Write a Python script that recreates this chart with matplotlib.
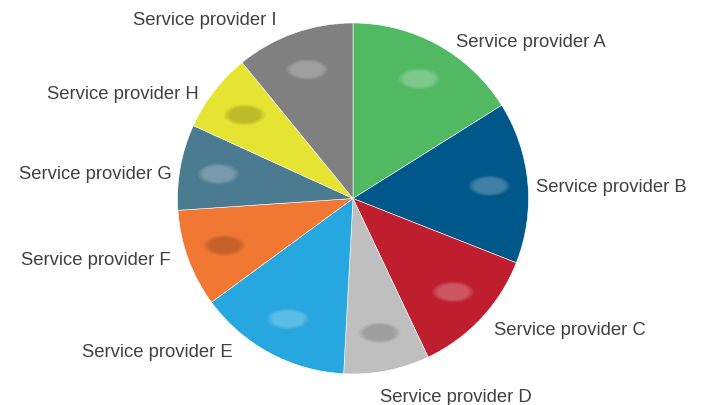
import numpy as np
import matplotlib
matplotlib.use("Agg")
import matplotlib.pyplot as plt
from matplotlib.patches import Ellipse

# slice data (percent share)
providers = ["Service provider A", "Service provider B", "Service provider C",
             "Service provider D", "Service provider E", "Service provider F",
             "Service provider G", "Service provider H", "Service provider I"]
shares = [16.1, 14.9, 12.0, 7.9, 14.1, 9.0, 7.9, 7.3, 10.9]
colors = ["#52b963", "#00578a", "#be1e2d", "#bfbfbf", "#27a7e0",
          "#f07833", "#4a7b90", "#e5e432", "#808080"]

# label anchors in pie-radius units, and blurred value-label tint
label_pos = [(0.585, 0.870), (1.045, 0.040), (0.801, -0.772), (0.153, -1.154),
             (-0.688, -0.900), (-1.040, -0.373), (-1.034, 0.117), (-0.881, 0.571),
             (-0.438, 0.997)]
blob_tint = ["white", "white", "white", "black", "white",
             "black", "white", "black", "white"]

W, H, DPI = 703, 406, 100
cx, cy, r = 353, 199.5, 175.5

fig = plt.figure(figsize=(W / DPI, H / DPI), dpi=DPI)
ax = fig.add_axes([0, 0, 1, 1])

wedges, _ = ax.pie(shares, colors=colors, startangle=90, counterclock=False,
                   radius=1.0, center=(0, 0), frame=True,
                   wedgeprops=dict(edgecolor="white", linewidth=0.4))
ax.set_xlim(-cx / r, (W - cx) / r)
ax.set_ylim(-(H - cy) / r, cy / r)
ax.set_aspect("equal")
ax.axis("off")

# blurred value labels
for w, tint in zip(wedges, blob_tint):
    mid = np.deg2rad((w.theta1 + w.theta2) / 2)
    bx, by = 0.78 * np.cos(mid), 0.78 * np.sin(mid)
    a = 0.06 if tint == "white" else 0.035
    for k in range(5):
        s = 1.2 - k * 0.08
        ax.add_patch(Ellipse((bx, by), 0.2 * s, 0.1 * s, color=tint,
                             alpha=a, lw=0))

for name, (lx, ly) in zip(providers, label_pos):
    ax.text(lx, ly, name, ha="left" if lx > 0 else "right", va="baseline",
            fontsize=13.3, family="Liberation Sans", color="#404040")

fig.savefig("out.png", dpi=DPI)
